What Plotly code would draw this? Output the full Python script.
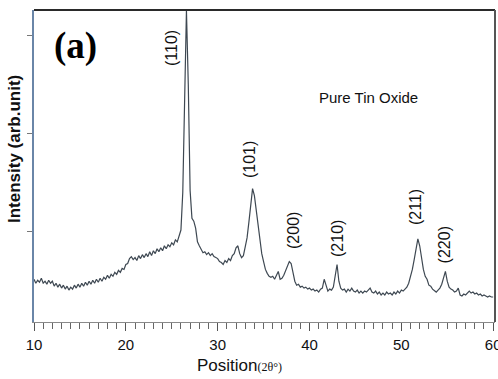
import numpy as np
import plotly.graph_objects as go

# XRD pattern of pure SnO2, sampled every 0.2 degrees of 2-theta
two_theta_start = 10.0
two_theta_step = 0.2
intensity = [
    52, 48, 51, 49, 53, 48, 50, 47, 51, 48,
    50, 45, 48, 44, 47, 43, 46, 42, 45, 41,
    44, 42, 46, 43, 47, 44, 48, 45, 49, 46,
    50, 47, 51, 48, 52, 49, 53, 50, 54, 52,
    56, 53, 57, 55, 59, 57, 61, 59, 63, 62,
    67, 68, 73, 75, 72, 74, 71, 76, 73, 77,
    74, 78, 75, 80, 76, 81, 78, 83, 80, 84,
    81, 86, 83, 87, 85, 89, 87, 92, 90, 96,
    102, 140, 230, 325, 250, 142, 114, 111, 104, 90,
    86, 82, 79, 80, 77, 79, 76, 78, 75, 74,
    73, 70, 69, 67, 71, 69, 73, 71, 76, 78,
    84, 86, 78, 74, 76, 85, 94, 110, 130, 144,
    137, 122, 102, 88, 78, 70, 62, 58, 55, 54,
    55, 52, 57, 60, 52, 53, 56, 61, 66, 70,
    68, 58, 50, 46, 47, 44, 45, 43, 44, 42,
    43, 41, 42, 40, 41, 39, 42, 43, 52, 46,
    40, 42, 41, 44, 58, 67, 50, 43, 41, 42,
    39, 42, 40, 43, 40, 39, 41, 38, 40, 38,
    40, 39, 41, 43, 39, 38, 40, 37, 39, 36,
    38, 36, 39, 37, 38, 36, 39, 37, 40, 38,
    41, 40, 42, 44, 48, 54, 62, 72, 85, 93,
    86, 72, 62, 55, 52, 46, 45, 42, 40, 39,
    41, 43, 47, 55, 60, 50, 44, 42, 41, 39,
    40, 43, 36, 35, 37, 36, 38, 40, 38, 39,
    37, 38, 36, 37, 35, 36, 35, 34, 35, 34,
    34,
]
two_theta = np.round(two_theta_start + two_theta_step * np.arange(len(intensity)), 1)

# Miller-index labels and where they sit (2-theta, intensity)
peak_labels = ["(110)", "(101)", "(200)", "(210)", "(211)", "(220)"]
label_x = [24.92, 33.53, 38.2, 43.1, 51.6, 54.8]
label_y = [286.8, 173.1, 102.0, 93.9, 125.4, 86.8]

x_ticks = [10, 20, 30, 40, 50, 60]
y_ticks = [100, 200, 300]

fig = go.Figure()
fig.add_trace(go.Scatter(
    x=two_theta, y=intensity, mode="lines",
    line=dict(color="#3e4852", width=1.2),
    hoverinfo="skip", showlegend=False,
))

sans = "Liberation Sans, Arial, sans-serif"
serif = "Liberation Serif, Times New Roman, serif"

annotations = []
for txt, lx, ly in zip(peak_labels, label_x, label_y):
    annotations.append(dict(
        x=lx, y=ly, xref="x", yref="y", text=txt, textangle=-90,
        showarrow=False, xanchor="center", yanchor="middle",
        font=dict(family=sans, size=16, color="#111"),
    ))
annotations += [
    dict(x=0.089, y=0.885, xref="paper", yref="paper", text="<b>(a)</b>",
         showarrow=False, xanchor="center", yanchor="middle",
         font=dict(family=serif, size=37, color="#000")),
    dict(x=0.7256, y=0.721, xref="paper", yref="paper", text="Pure Tin Oxide",
         showarrow=False, xanchor="center", yanchor="middle",
         font=dict(family=sans, size=15, color="#111")),
    dict(x=-0.0412, y=0.5545, xref="paper", yref="paper",
         text="<b>Intensity (arb.unit)</b>", textangle=-90,
         showarrow=False, xanchor="center", yanchor="middle",
         font=dict(family=sans, size=17, color="#111")),
    dict(x=0.4447, y=-0.141, xref="paper", yref="paper",
         text="Position<span style='font-family:Liberation Serif;font-size:12px'>(2θ°)</span>",
         showarrow=False, xanchor="center", yanchor="middle",
         font=dict(family=sans, size=17, color="#111")),
]

shapes = [
    # top and right frame edges
    dict(type="line", xref="paper", yref="paper", x0=0, x1=1, y0=1, y1=1,
         line=dict(color="#2a2a2a", width=2)),
    dict(type="line", xref="paper", yref="paper", x0=1, x1=1, y0=0, y1=1,
         line=dict(color="#555", width=2)),
]

fig.update_layout(
    width=498, height=379,
    margin=dict(l=34, r=3, t=10, b=57, autoexpand=False),
    paper_bgcolor="white", plot_bgcolor="white",
    annotations=annotations, shapes=shapes,
    xaxis=dict(
        range=[10, 60.2], tickvals=x_ticks, ticks="outside", ticklen=8,
        tickcolor="#555", tickwidth=1, showgrid=False, zeroline=False,
        showline=True, linecolor="#8a8a8a", linewidth=1, automargin=False,
        tickfont=dict(family=sans, size=15, color="#111"),
        ticklabelstandoff=1, ticklabeloverflow="allow",
        minor=dict(dtick=1, ticks="outside", ticklen=6, tickcolor="#666", tickwidth=1),
    ),
    yaxis=dict(
        range=[8.6, 325.4], tickvals=y_ticks, ticks="outside", ticklen=5,
        tickcolor="#777", showticklabels=False, showgrid=False, zeroline=False,
        showline=True, linecolor="#6a86a8", linewidth=2, automargin=False,
    ),
)

fig.write_html("out.html")
